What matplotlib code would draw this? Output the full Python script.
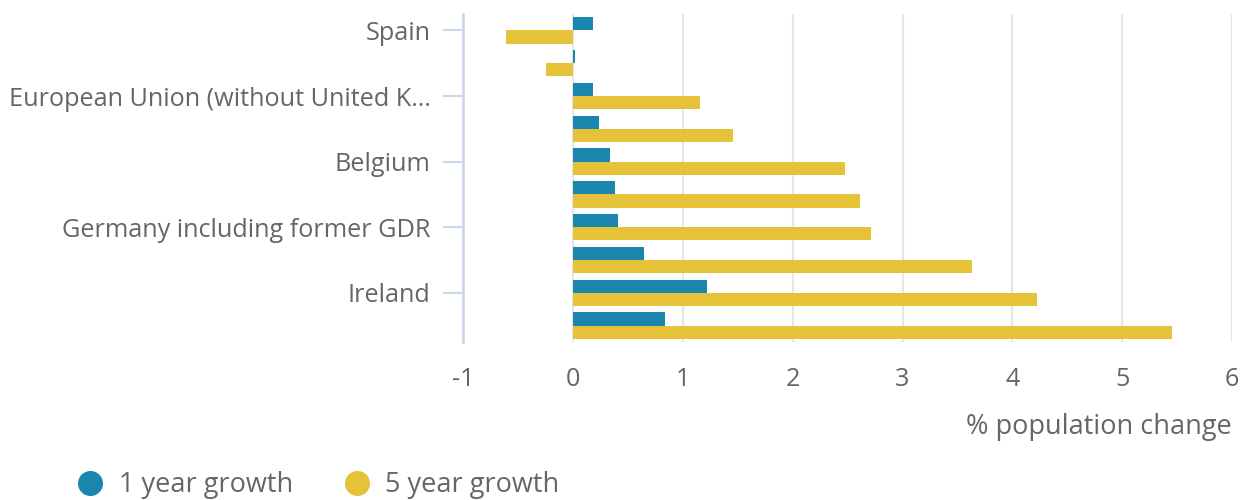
import matplotlib
matplotlib.use("Agg")
from matplotlib import pyplot as plt
from matplotlib.lines import Line2D
import numpy as np

plt.rcParams['font.family'] = ['Open Sans', 'DejaVu Sans']

# data (top to bottom)
countries = ["Spain", "Italy", "European Union (without United K\u2026", "France",
             "Belgium", "Netherlands", "Germany including former GDR", "Denmark",
             "Ireland", "Sweden"]
shown = [True, False, True, False, True, False, True, False, True, False]
growth_1y = [0.18, 0.02, 0.18, 0.24, 0.34, 0.38, 0.41, 0.65, 1.22, 0.84]
growth_5y = [-0.61, -0.25, 1.16, 1.46, 2.48, 2.61, 2.71, 3.63, 4.22, 5.45]

blue = "#1a85ad"
yellow = "#e5c238"
txt = "#666666"
fs = 18.2

fig = plt.figure(figsize=(12.45, 5), dpi=100)
ax = fig.add_axes([0.372, 0.316, 0.6176, 0.656])

y = np.arange(len(countries))
h = 0.4
ax.barh(y - h / 2, growth_1y, height=h, color=blue, zorder=3)
ax.barh(y + h / 2, growth_5y, height=h, color=yellow, zorder=3)

ax.set_ylim(len(countries) - 0.5, -0.5)
ax.set_xlim(-1, 6)
ax.set_xticks(range(-1, 7))
ax.set_xticklabels([str(v) for v in range(-1, 7)])
ax.grid(axis="x", color="#e6e6e6", linewidth=1.5, zorder=0)

ticks = [i for i in y if shown[i]]
ax.set_yticks(ticks)
ax.set_yticklabels([countries[i] for i in ticks])

for s in ["top", "right", "bottom"]:
    ax.spines[s].set_visible(False)
ax.spines["left"].set_color("#ccd6eb")
ax.spines["left"].set_linewidth(2)
ax.spines["left"].set_position(("data", -1))

ax.tick_params(axis="y", length=14.4, width=1.5, color="#ccd6eb", pad=9,
               labelsize=fs, labelcolor=txt)
ax.tick_params(axis="x", length=0, pad=18, labelsize=fs, labelcolor=txt)
ax.set_xlabel("% population change", loc="right", fontsize=19.5, color=txt, labelpad=15)

handles = [Line2D([], [], marker="o", linestyle="", markersize=17, color=blue),
           Line2D([], [], marker="o", linestyle="", markersize=17, color=yellow)]
fig.legend(handles, ["1 year growth", "5 year growth"], loc="lower left",
           bbox_to_anchor=(0.04, -0.047), ncol=2, frameon=False,
           fontsize=19.5, labelcolor=txt, handlelength=1.2, handletextpad=0.45,
           columnspacing=1.75)

fig.savefig("out.png", dpi=100)
